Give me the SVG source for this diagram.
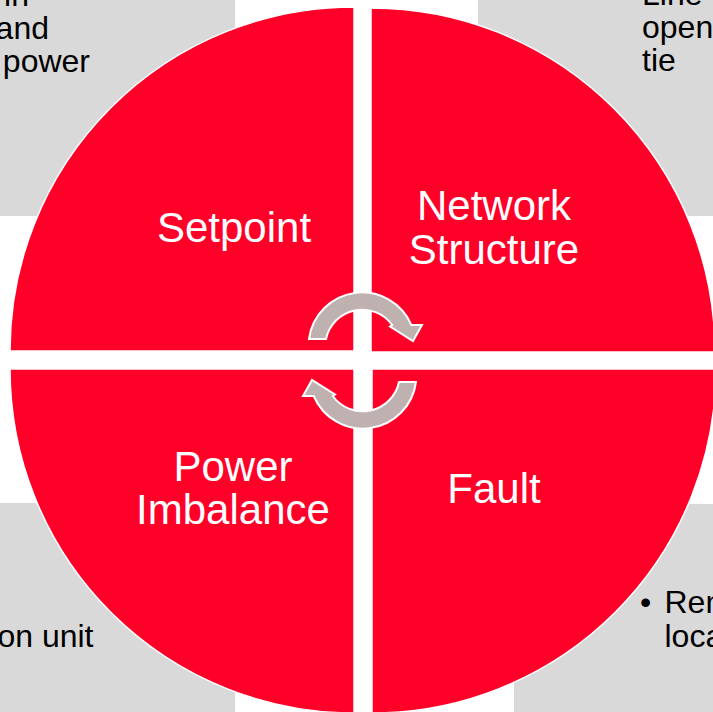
<svg xmlns="http://www.w3.org/2000/svg" width="713" height="712" viewBox="0 0 713 712">
  <style>
    .box { fill: #D9D9D9; }
    .quad { fill: #FF0029; stroke: #FFFFFF; stroke-width: 1.5; }
    .label { font-family: "Liberation Sans", Arial, sans-serif; font-size: 42px; fill: #FFFFFF; text-anchor: middle; }
    .body { font-family: "Liberation Sans", Arial, sans-serif; font-size: 32px; fill: #000000; }
    .arrow { fill: #C0B1B1; stroke: #FFFFFF; stroke-width: 2; stroke-linejoin: miter; }
  </style>
  <defs>
    <path id="cyc" d="M309,339 A53.5,53.5 0 0 1 411.3,325 L422,325 L413,341 L390,326.5 L392.2,325 A37,37 0 0 0 326,339 Z"/>
  </defs>
  <rect x="0" y="0" width="713" height="712" fill="#FFFFFF"/>

  <g id="text-boxes">
    <g id="box-tl">
      <rect class="box" x="0" y="0" width="235" height="216"/>
      <text class="body" x="29" y="6" text-anchor="end">in</text>
      <text class="body" x="49" y="39" text-anchor="end">and</text>
      <text class="body" x="90" y="72" text-anchor="end">power</text>
    </g>
    <g id="box-tr">
      <rect class="box" x="478" y="0" width="235" height="216"/>
      <text class="body" x="642" y="5">Line</text>
      <text class="body" x="642" y="38">open</text>
      <text class="body" x="642" y="71">tie</text>
    </g>
    <g id="box-bl">
      <rect class="box" x="0" y="503" width="235" height="209"/>
      <text class="body" x="93.5" y="647" text-anchor="end">on unit</text>
    </g>
    <g id="box-br">
      <rect class="box" x="514" y="504" width="199" height="208"/>
      <text class="body" x="640" y="613">•</text>
      <text class="body" x="664.5" y="613">Rem</text>
      <text class="body" x="664.5" y="647">loca</text>
    </g>
  </g>

  <g id="setpoint">
    <path class="quad" d="M354,351 L10,351 A344,344 0 0 1 354,7 Z"/>
    <text class="label" x="234" y="242">Setpoint</text>
  </g>
  <g id="network-structure">
    <path class="quad" d="M371,352 L371,8 A344,344 0 0 1 715,352 Z"/>
    <text class="label" x="494" y="220">Network</text>
    <text class="label" x="494" y="264">Structure</text>
  </g>
  <g id="power-imbalance">
    <path class="quad" d="M354,369 L354,713 A344,344 0 0 1 10,369 Z"/>
    <text class="label" x="233" y="481">Power</text>
    <text class="label" x="233" y="524">Imbalance</text>
  </g>
  <g id="fault">
    <path class="quad" d="M372,369 L716,369 A344,344 0 0 1 372,713 Z"/>
    <text class="label" x="494" y="503">Fault</text>
  </g>

  <g id="connectors">
    <use href="#cyc" class="arrow"/>
    <use href="#cyc" class="arrow" transform="rotate(180 362.5 360.5)"/>
  </g>
</svg>
